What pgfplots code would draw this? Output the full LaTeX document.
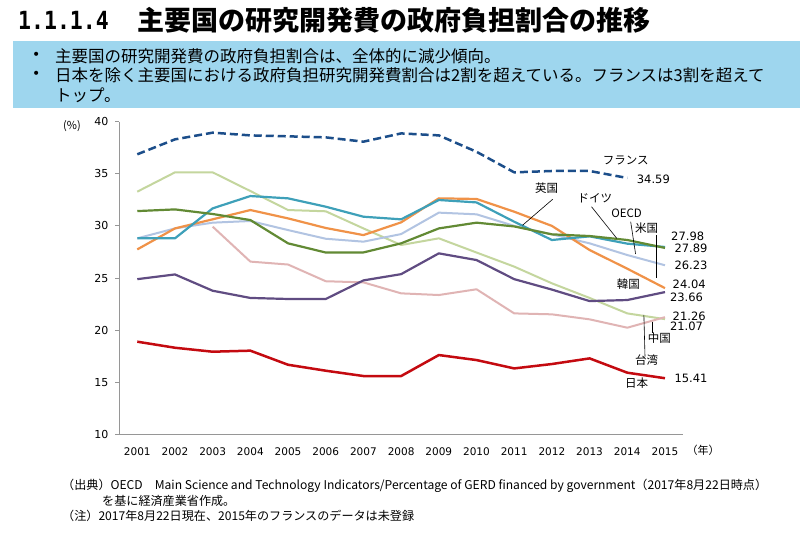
\documentclass[border=0pt]{standalone}
\usepackage{fontspec}
\usepackage{graphicx}
\usepackage{pgfplots}
\pgfplotsset{compat=1.18}
\setmainfont{DejaVu Sans}
\newfontfamily\jp{Noto Sans CJK JP}
\newfontfamily\monob{DejaVu Sans Mono}
\definecolor{boxblue}{RGB}{158,214,238}
\definecolor{cfr}{RGB}{28,78,138}
\definecolor{cuk}{RGB}{62,160,185}
\definecolor{cde}{RGB}{98,138,52}
\definecolor{cus}{RGB}{240,146,72}
\definecolor{coecd}{RGB}{178,196,226}
\definecolor{ckr}{RGB}{96,76,130}
\definecolor{ccn}{RGB}{224,180,180}
\definecolor{ctw}{RGB}{196,214,158}
\definecolor{cjp}{RGB}{196,10,16}
\definecolor{axgray}{RGB}{150,150,150}
\begin{document}
\begin{tikzpicture}
\path[use as bounding box, fill=white] (0,0) rectangle (800pt,-536pt);
% title
\node[anchor=west, inner sep=0] at (18pt,-20pt) {\scalebox{0.86}[1]{\monob\bfseries\fontsize{25}{28}\selectfont 1.1.1.4}};
\node[anchor=west, inner sep=0] at (137pt,-20pt) {\jp\bfseries\fontsize{27}{30}\selectfont 主要国の研究開発費の政府負担割合の推移};
% blue box
\fill[boxblue] (13pt,-41pt) rectangle (800pt,-108pt);
\node[anchor=west, inner sep=0] at (32pt,-56pt) {\fontsize{14}{16}\selectfont •};
\node[anchor=west, inner sep=0] at (32pt,-75pt) {\fontsize{14}{16}\selectfont •};
\node[anchor=west, inner sep=0] at (55pt,-56pt) {\jp\fontsize{16.5}{18}\selectfont 主要国の研究開発費の政府負担割合は、全体的に減少傾向。};
\node[anchor=west, inner sep=0] at (55pt,-75pt) {\jp\fontsize{16.5}{18}\selectfont 日本を除く主要国における政府負担研究開発費割合は2割を超えている。フランスは3割を超えて};
\node[anchor=west, inner sep=0] at (55pt,-95pt) {\jp\fontsize{16.5}{18}\selectfont トップ。};
% footer
\node[anchor=west, inner sep=0] at (62pt,-486pt) {\jp\fontsize{12.1}{14}\selectfont （出典）OECD　Main Science and Technology Indicators/Percentage of GERD financed by government（2017年8月22日時点）};
\node[anchor=west, inner sep=0] at (102pt,-501pt) {\jp\fontsize{12.1}{14}\selectfont を基に経済産業省作成。};
\node[anchor=west, inner sep=0] at (62pt,-516pt) {\jp\fontsize{12.1}{14}\selectfont （注）2017年8月22日現在、2015年のフランスのデータは未登録};
% axis labels
\node[anchor=center, inner sep=0] at (72pt,-126pt) {\jp\fontsize{11}{12}\selectfont (\%)};
\node[anchor=center, inner sep=0] at (703pt,-450pt) {\jp\fontsize{11}{12}\selectfont （年）};
\begin{axis}[
  at={(119pt,-434.7pt)}, anchor=south west,
  scale only axis, width=563.7pt, height=313.2pt,
  xmin=2000.515, xmax=2015.47, ymin=10, ymax=40,
  axis x line*=bottom, axis y line*=left,
  axis line style={-, draw=axgray, line width=0.9pt},
  xtick={2001,...,2015}, ytick={10,15,...,40},
  xtick style={draw=none}, ytick style={draw=axgray, line width=0.9pt},
  tick align=outside, major tick length=4pt,
  /pgf/number format/assume math mode=true,
  /pgf/number format/1000 sep={},
  xticklabel style={font=\fontsize{10.5}{12}\selectfont, yshift=-5pt},
  yticklabel style={font=\fontsize{11}{12}\selectfont, xshift=-3pt},
  clip=false,
  every axis plot/.append style={mark=none, line join=round},
]
\addplot[ctw, line width=2pt] coordinates {(2001,33.28) (2002,35.13) (2003,35.13) (2004,33.34) (2005,31.52) (2006,31.40) (2007,29.76) (2008,28.17) (2009,28.81) (2010,27.45) (2011,26.10) (2012,24.50) (2013,23.10) (2014,21.62) (2015,21.07)};
\addplot[ccn, line width=2pt] coordinates {(2003,29.93) (2004,26.58) (2005,26.30) (2006,24.70) (2007,24.59) (2008,23.54) (2009,23.38) (2010,23.93) (2011,21.62) (2012,21.53) (2013,21.05) (2014,20.25) (2015,21.26)};
\addplot[coecd, line width=2pt] coordinates {(2001,28.81) (2002,29.76) (2003,30.31) (2004,30.47) (2005,29.60) (2006,28.77) (2007,28.49) (2008,29.22) (2009,31.27) (2010,31.11) (2011,30.00) (2012,29.19) (2013,28.33) (2014,27.21) (2015,26.23)};
\addplot[ckr, line width=2.2pt] coordinates {(2001,24.90) (2002,25.35) (2003,23.79) (2004,23.10) (2005,23.00) (2006,23.00) (2007,24.78) (2008,25.38) (2009,27.37) (2010,26.73) (2011,24.90) (2012,23.90) (2013,22.80) (2014,22.90) (2015,23.66)};
\addplot[cus, line width=2.2pt] coordinates {(2001,27.75) (2002,29.76) (2003,30.63) (2004,31.52) (2005,30.72) (2006,29.80) (2007,29.12) (2008,30.34) (2009,32.64) (2010,32.58) (2011,31.36) (2012,30.00) (2013,27.69) (2014,25.90) (2015,24.04)};
\addplot[cuk, line width=2.2pt] coordinates {(2001,28.81) (2002,28.81) (2003,31.68) (2004,32.86) (2005,32.64) (2006,31.84) (2007,30.88) (2008,30.63) (2009,32.48) (2010,32.25) (2011,30.40) (2012,28.65) (2013,29.00) (2014,28.30) (2015,27.98)};
\addplot[cde, line width=2.2pt] coordinates {(2001,31.42) (2002,31.58) (2003,31.14) (2004,30.56) (2005,28.33) (2006,27.45) (2007,27.46) (2008,28.33) (2009,29.76) (2010,30.31) (2011,29.95) (2012,29.19) (2013,29.03) (2014,28.65) (2015,27.89)};
\addplot[cjp, line width=2.5pt] coordinates {(2001,18.91) (2002,18.33) (2003,17.95) (2004,18.05) (2005,16.70) (2006,16.13) (2007,15.62) (2008,15.62) (2009,17.63) (2010,17.15) (2011,16.35) (2012,16.77) (2013,17.31) (2014,15.94) (2015,15.41)};
\addplot[cfr, line width=2.5pt, dash pattern=on 8pt off 4pt] coordinates {(2001,36.86) (2002,38.29) (2003,38.93) (2004,38.67) (2005,38.58) (2006,38.48) (2007,38.07) (2008,38.86) (2009,38.67) (2010,37.10) (2011,35.13) (2012,35.26) (2013,35.26) (2014,34.59)};
% leader lines
\draw[black, line width=0.6pt] (2012.02,32.55) -- (2011.22,30.06);
\draw[black, line width=0.6pt] (2013.05,31.84) -- (2013.72,28.81);
\draw[black, line width=0.6pt] (2014.09,30.40) -- (2014.22,27.31);
\draw[black, line width=0.6pt] (2014.78,29.13) -- (2014.78,24.98);
\draw[black, line width=0.6pt] (2014.67,20.82) -- (2014.67,19.71);
\draw[black, line width=0.6pt] (2014.44,21.47) -- (2014.47,17.47);
% country labels
\tikzset{jl/.style={inner sep=0, font=\jp\fontsize{11.5}{12}\selectfont}, nl/.style={inner sep=0, anchor=west, font=\fontsize{11.5}{12}\selectfont}}
\node[jl] at (2013.96,36.3) {フランス};
\node[jl] at (2011.86,33.6) {英国};
\node[jl] at (2013.14,32.64) {ドイツ};
\node[jl] at (2013.98,31.2) {OECD};
\node[jl] at (2014.51,29.77) {米国};
\node[jl] at (2014.03,24.43) {韓国};
\node[jl] at (2014.85,19.23) {中国};
\node[jl] at (2014.51,17.15) {台湾};
\node[jl] at (2014.25,14.92) {日本};
\node[nl] at (2014.25,34.5) {34.59};
\node[nl] at (2015.16,29.03) {27.98};
\node[nl] at (2015.25,27.85) {27.89};
\node[nl] at (2015.25,26.23) {26.23};
\node[nl] at (2015.20,24.40) {24.04};
\node[nl] at (2015.13,23.16) {23.66};
\node[nl] at (2015.20,21.30) {21.26};
\node[nl] at (2015.13,20.34) {21.07};
\node[nl] at (2015.25,15.40) {15.41};
\end{axis}
\end{tikzpicture}
\end{document}
